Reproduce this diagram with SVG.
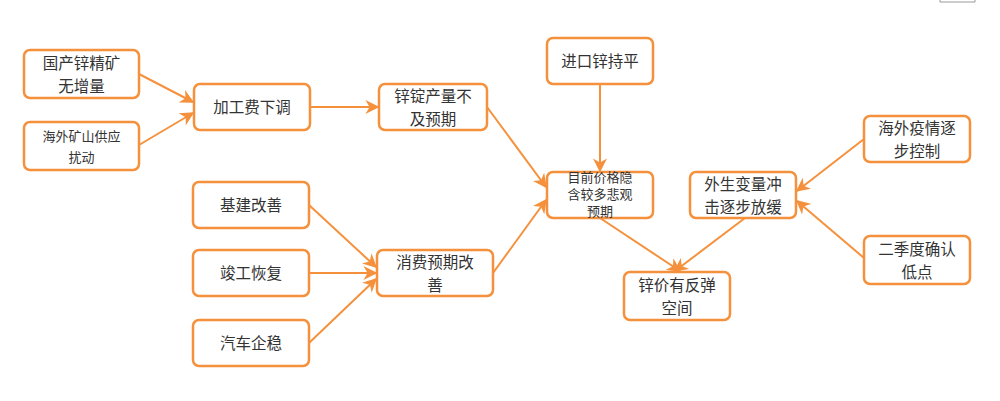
<svg xmlns="http://www.w3.org/2000/svg" width="1000" height="401" viewBox="0 0 1000 401">
<defs>
<marker id="a" viewBox="0 0 10 10" refX="9" refY="5" markerWidth="7" markerHeight="7" orient="auto"><path d="M0,0 L10,5 L0,10 L3,5 Z" fill="#F5913C"/></marker>
</defs>
<style>
.n rect{fill:#fff;stroke:#F5913C;stroke-width:2.5}
text{font-family:"Noto Sans CJK SC",sans-serif;font-size:15.5px;fill:#333;text-anchor:middle}
.s{font-size:13px}
#c line{stroke:#F5913C;stroke-width:2;marker-end:url(#a)}
</style>
<rect width="1000" height="401" fill="#fff"/>
<polyline points="940,0 940,2 975,2 975,0" fill="none" stroke="#999" stroke-width="1"/>
<g id="c">
<line x1="139" y1="74" x2="193" y2="102"/>
<line x1="139" y1="145" x2="193" y2="113"/>
<line x1="310" y1="107" x2="378" y2="107"/>
<line x1="487" y1="107" x2="546" y2="187"/>
<line x1="600" y1="84" x2="600" y2="171"/>
<line x1="309" y1="205" x2="376" y2="267"/>
<line x1="309" y1="273" x2="376" y2="273"/>
<line x1="309" y1="343" x2="376" y2="279"/>
<line x1="493" y1="273" x2="546" y2="200"/>
<line x1="600" y1="218" x2="680" y2="271"/>
<line x1="745" y1="218" x2="675" y2="271"/>
<line x1="864" y1="139" x2="797" y2="191"/>
<line x1="864" y1="258" x2="797" y2="201"/>
</g>
<g id="n1" class="n"><rect x="24" y="50" width="115" height="48" rx="6"/><text x="81.5" y="69">国产锌精矿</text><text x="81.5" y="92">无增量</text></g>
<g id="n2" class="n"><rect x="24" y="122" width="115" height="48" rx="6"/><text class="s" x="81.5" y="141">海外矿山供应</text><text class="s" x="81.5" y="162">扰动</text></g>
<g id="n3" class="n"><rect x="194" y="84" width="116" height="46" rx="6"/><text x="252" y="113">加工费下调</text></g>
<g id="n4" class="n"><rect x="379" y="84" width="108" height="46" rx="6"/><text x="433" y="102">锌锭产量不</text><text x="433" y="125">及预期</text></g>
<g id="n5" class="n"><rect x="547" y="38" width="106" height="46" rx="6"/><text x="600" y="67">进口锌持平</text></g>
<g id="n6" class="n"><rect x="547" y="172" width="106" height="46" rx="6"/><text class="s" x="600" y="182">目前价格隐</text><text class="s" x="600" y="199">含较多悲观</text><text class="s" x="600" y="216">预期</text></g>
<g id="n7" class="n"><rect x="193" y="182" width="116" height="46" rx="6"/><text x="251" y="211">基建改善</text></g>
<g id="n8" class="n"><rect x="193" y="250" width="116" height="46" rx="6"/><text x="251" y="279">竣工恢复</text></g>
<g id="n9" class="n"><rect x="193" y="320" width="116" height="46" rx="6"/><text x="251" y="349">汽车企稳</text></g>
<g id="n10" class="n"><rect x="377" y="250" width="116" height="46" rx="6"/><text x="435" y="268">消费预期改</text><text x="435" y="291">善</text></g>
<g id="n11" class="n"><rect x="690" y="172" width="106" height="46" rx="6"/><text x="743" y="190">外生变量冲</text><text x="743" y="213">击逐步放缓</text></g>
<g id="n12" class="n"><rect x="624" y="272" width="106" height="48" rx="6"/><text x="677" y="291">锌价有反弹</text><text x="677" y="314">空间</text></g>
<g id="n13" class="n"><rect x="864" y="116" width="106" height="46" rx="6"/><text x="917" y="134">海外疫情逐</text><text x="917" y="157">步控制</text></g>
<g id="n14" class="n"><rect x="864" y="236" width="106" height="48" rx="6"/><text x="917" y="255">二季度确认</text><text x="917" y="278">低点</text></g>
</svg>
